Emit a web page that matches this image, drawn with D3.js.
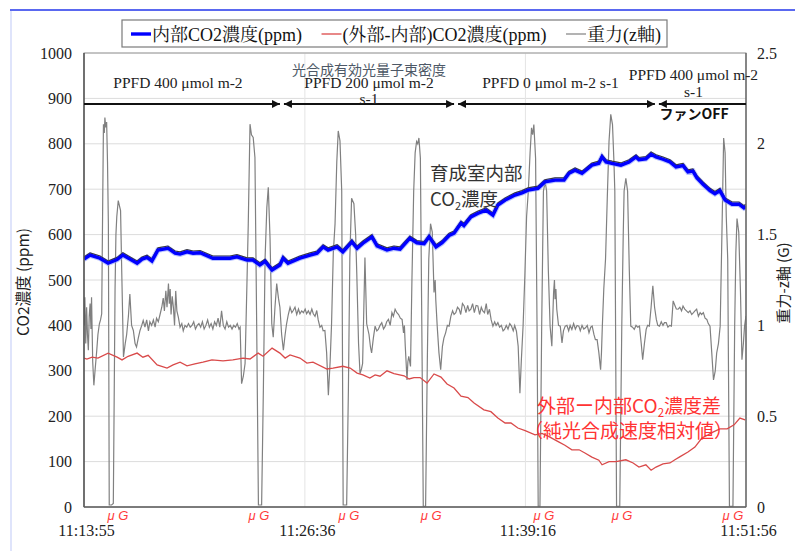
<!DOCTYPE html>
<html><head><meta charset="utf-8">
<script src="https://cdn.jsdelivr.net/npm/d3@7"></script>
<style>
html,body{margin:0;padding:0;background:#fff;}
svg{display:block;}
</style></head>
<body>
<script>
// ---------------- DATA ----------------
const timeLabels = ["11:13:55","11:26:36","11:39:16","11:51:56"];
const co2Ticks = [0,100,200,300,400,500,600,700,800,900,1000];
const gTicks = [0,0.5,1,1.5,2,2.5];
const gTickLabels = ["0","0.5","1","1.5","2","2.5"];

// elapsed seconds from 11:13:55, ppm
const innerCO2 = [[0,546],[21,555],[55,548],[83,537],[114,545],[134,555],[183,537],[200,546],[217,550],[234,542],[255,566],[289,570],[314,559],[331,557],[355,562],[376,559],[400,560],[444,548],[503,548],[527,551],[562,544],[582,544],[606,533],[624,541],[648,522],[675,533],[686,548],[703,537],[744,548],[779,555],[803,559],[824,573],[841,566],[872,573],[892,562],[923,584],[941,570],[961,581],[992,595],[1010,575],[1044,566],[1068,570],[1089,568],[1123,592],[1147,582],[1172,580],[1189,595],[1213,573],[1234,582],[1258,598],[1275,603],[1299,625],[1309,620],[1333,639],[1358,647],[1385,654],[1409,643],[1426,665],[1451,676],[1485,687],[1509,692],[1530,698],[1564,702],[1588,716],[1623,720],[1654,720],[1671,735],[1692,742],[1716,735],[1750,753],[1774,757],[1785,771],[1799,760],[1819,757],[1850,753],[1878,760],[1902,771],[1912,765],[1936,767],[1954,777],[1971,771],[1995,766],[2019,760],[2040,749],[2064,752],[2081,738],[2098,740],[2112,725],[2133,711],[2157,697],[2174,690],[2191,697],[2209,676],[2233,667],[2257,667],[2274,659],[2281,662]];

const diffCO2 = [[0,328],[10,326],[28,330],[48,328],[83,339],[114,330],[131,324],[152,332],[183,339],[203,330],[221,334],[252,313],[286,306],[307,313],[331,319],[355,311],[382,315],[410,319],[441,324],[479,322],[513,324],[548,328],[572,326],[600,339],[617,332],[648,350],[675,339],[693,328],[710,335],[744,328],[768,317],[789,319],[837,304],[858,306],[892,310],[917,306],[941,295],[961,291],[985,284],[1003,291],[1020,288],[1044,300],[1068,294],[1103,289],[1120,282],[1137,285],[1158,285],[1182,273],[1206,293],[1230,286],[1251,271],[1275,262],[1299,244],[1323,241],[1344,229],[1378,214],[1402,210],[1426,196],[1451,185],[1471,185],[1495,174],[1520,168],[1554,159],[1578,162],[1599,156],[1637,143],[1657,136],[1681,126],[1706,126],[1726,119],[1750,110],[1774,103],[1785,93],[1809,100],[1833,100],[1867,104],[1892,97],[1912,88],[1936,93],[1954,81],[1971,88],[1995,95],[2019,97],[2036,104],[2054,111],[2081,121],[2105,132],[2129,152],[2150,159],[2167,165],[2191,172],[2216,172],[2240,181],[2260,196],[2278,192]];

// elapsed seconds, G
const gravity = [[0,1.0],[3,1.155],[6,0.9],[9,1.1],[12,0.95],[15,0.863],[18,1.05],[21,1.12],[24,0.98],[26,1.155],[30,0.8],[34,0.67],[38,0.75],[44,0.863],[48,0.95],[53,1.009],[57,1.03],[61,1.064],[64,1.6],[67,2.108],[70,2.06],[72,2.145],[75,2.09],[78,2.12],[81,1.9],[84,1.559],[87,0.011],[95,0.011],[101,0.02],[104,0.6],[107,1.2],[110,1.5],[113,1.6],[118,1.687],[122,1.66],[126,1.632],[130,1.3],[136,0.826],[142,0.9],[147,0.95],[153,1.05],[158,1.173],[164,1.0],[170,0.972],[176,0.9],[181,0.881],[187,0.93],[193,0.972],[199,1.0],[204,1.027],[210,0.99],[216,1.03],[222,0.97],[227,1.02],[233,1.0],[239,1.03],[245,0.99],[250,1.04],[256,1.02],[262,1.06],[268,1.10],[273,1.15],[277,1.08],[282,1.19],[286,1.1],[291,1.23],[294,1.12],[297,1.2],[300,1.06],[304,1.16],[308,1.10],[312,1.0],[316,1.19],[320,1.08],[325,1.045],[331,0.99],[337,1.01],[342,0.97],[348,1.0],[354,0.99],[360,1.01],[366,0.99],[372,1.0],[378,1.02],[384,0.98],[390,1.0],[396,1.01],[402,0.99],[408,1.02],[414,0.98],[420,1.0],[426,1.03],[432,0.99],[438,1.01],[444,0.98],[450,1.02],[456,1.0],[462,1.04],[468,0.99],[474,1.08],[480,1.0],[486,0.98],[492,1.02],[498,0.99],[504,1.0],[510,0.98],[516,1.0],[522,0.99],[528,1.01],[534,0.98],[538,0.99],[543,0.679],[549,0.72],[555,0.79],[561,1.2],[566,1.559],[572,2.108],[577,2.05],[583,2.035],[589,1.925],[595,1.0],[601,0.011],[612,0.011],[618,0.643],[624,1.374],[630,1.65],[635,1.76],[641,1.48],[647,1.009],[652,0.935],[658,1.1],[664,1.23],[670,1.15],[675,1.10],[681,0.95],[687,0.863],[693,0.95],[698,1.009],[704,1.06],[710,1.10],[716,1.07],[721,1.082],[727,1.1],[733,1.06],[739,1.09],[744,1.064],[750,1.08],[756,1.07],[762,1.09],[767,1.064],[773,1.08],[779,1.06],[785,1.09],[790,1.064],[796,1.05],[802,1.082],[807,1.03],[813,0.99],[819,1.0],[824,0.97],[830,0.972],[836,0.85],[842,0.615],[848,0.8],[853,1.009],[859,1.4],[865,1.559],[871,1.9],[876,2.071],[882,2.016],[888,1.74],[893,0.011],[905,0.011],[911,0.643],[916,1.374],[922,1.70],[930,1.67],[936,1.5],[940,1.28],[946,0.9],[951,0.735],[956,0.76],[960,0.79],[968,1.374],[974,1.009],[982,0.95],[987,0.881],[991,0.848],[997,0.93],[1003,0.996],[1009,0.97],[1014,0.978],[1020,1.0],[1026,1.015],[1032,0.98],[1038,0.996],[1043,1.02],[1049,1.033],[1055,1.0],[1061,1.07],[1066,1.05],[1072,1.089],[1078,1.07],[1084,1.06],[1090,1.04],[1096,1.033],[1101,0.959],[1104,1.0],[1107,0.885],[1113,0.70],[1116,0.8],[1119,0.83],[1125,0.774],[1130,1.255],[1136,1.74],[1141,1.95],[1146,2.013],[1150,2.0],[1154,2.032],[1159,1.921],[1165,0.811],[1169,0.003],[1177,0.003],[1183,0.811],[1188,1.366],[1194,1.56],[1200,1.514],[1206,1.181],[1210,1.25],[1212,1.144],[1217,0.996],[1223,0.85],[1229,0.756],[1235,0.885],[1240,0.93],[1246,0.959],[1252,1.0],[1258,0.996],[1264,1.05],[1270,1.08],[1275,1.06],[1281,1.07],[1287,1.10],[1293,1.089],[1298,1.06],[1304,1.12],[1310,1.107],[1316,1.07],[1322,1.11],[1327,1.08],[1333,1.089],[1339,1.12],[1345,1.07],[1351,1.11],[1357,1.107],[1363,1.06],[1369,1.10],[1374,1.08],[1380,1.07],[1386,1.12],[1391,1.06],[1397,1.089],[1403,1.03],[1409,0.996],[1415,1.02],[1420,1.0],[1426,1.015],[1432,0.99],[1438,1.0],[1444,0.97],[1449,0.978],[1455,1.0],[1461,0.98],[1467,1.01],[1473,0.996],[1479,0.97],[1484,1.0],[1490,0.968],[1496,0.885],[1502,0.626],[1507,0.811],[1513,1.0],[1519,1.274],[1525,1.6],[1531,1.74],[1537,1.95],[1542,2.088],[1546,2.05],[1550,2.106],[1556,1.921],[1561,0.996],[1565,0.003],[1571,0.003],[1577,0.996],[1583,1.74],[1589,1.791],[1594,1.74],[1600,1.3],[1606,0.996],[1612,0.885],[1618,1.181],[1621,1.25],[1623,1.144],[1626,1.2],[1629,1.089],[1635,1.0],[1641,0.996],[1647,0.904],[1652,0.97],[1658,0.996],[1664,1.0],[1670,0.97],[1675,1.0],[1681,0.978],[1687,1.01],[1693,0.98],[1699,1.0],[1705,0.996],[1710,0.97],[1716,1.0],[1722,0.98],[1728,0.987],[1734,1.0],[1740,0.96],[1746,0.99],[1751,0.996],[1757,0.95],[1762,0.922],[1768,0.922],[1774,0.85],[1780,0.756],[1783,0.85],[1786,0.996],[1791,1.2],[1797,1.366],[1803,1.7],[1809,2.013],[1815,2.162],[1821,2.106],[1826,1.9],[1829,1.74],[1835,0.003],[1846,0.003],[1853,0.996],[1858,1.5],[1861,1.74],[1867,1.81],[1873,1.74],[1879,1.3],[1884,0.996],[1890,0.99],[1896,0.978],[1902,1.0],[1908,0.99],[1914,0.996],[1920,0.9],[1925,0.811],[1931,0.9],[1937,0.978],[1942,1.0],[1948,0.996],[1954,1.1],[1960,1.218],[1966,1.1],[1972,1.033],[1977,1.0],[1983,0.996],[1989,1.02],[1995,1.0],[2000,1.015],[2006,1.015],[2012,0.99],[2018,1.0],[2024,0.996],[2030,1.135],[2036,1.11],[2041,1.09],[2047,1.089],[2053,1.1],[2059,1.08],[2064,1.107],[2070,1.09],[2076,1.08],[2082,1.07],[2088,1.08],[2094,1.06],[2100,1.07],[2105,1.08],[2111,1.089],[2117,1.05],[2123,1.07],[2128,1.06],[2134,1.07],[2140,1.04],[2146,1.033],[2151,1.01],[2157,0.996],[2163,0.85],[2169,0.70],[2175,0.75],[2180,0.848],[2186,0.9],[2192,0.996],[2198,1.5],[2204,2.032],[2209,1.95],[2213,1.6],[2218,1.366],[2224,0.003],[2236,0.003],[2242,0.996],[2246,1.4],[2250,1.588],[2256,1.514],[2262,1.181],[2267,0.811],[2272,0.9],[2276,0.996],[2281,1.052]];

// light phases (elapsed seconds boundaries)
const phaseBounds = [0, 682, 1282, 1974, 2281];
const phaseLabels = [["PPFD 400 μmol m-2"],["PPFD 200 μmol m-2","s-1"],["PPFD 0 μmol m-2 s-1"],["PPFD 400 μmol m-2","s-1"]];
// microgravity markers (elapsed seconds)
const muGTimes = [117, 603, 913, 1196, 1585, 1854, 2236];

const legendLabels = ["内部CO2濃度(ppm)", "(外部-内部)CO2濃度(ppm)", "重力(z軸)"];

// ---------------- CHART ----------------
const W = 795, H = 551;
const L = 84, R = 746, T = 53, B = 507;
const svg = d3.select("body").append("svg").attr("width", W).attr("height", H);

const toSec = s => { const [h,m,ss] = s.split(":").map(Number); return h*3600+m*60+ss; };
const t0 = toSec(timeLabels[0]);
const tickSecs = timeLabels.map(s => toSec(s) - t0);

const x = d3.scaleLinear().domain([0, tickSecs[tickSecs.length-1]]).range([L, R]);
const yL = d3.scaleLinear().domain([0, 1000]).range([B, T]);
const yR = d3.scaleLinear().domain([0, 2.5]).range([B, T]);

// slide frame
svg.append("line").attr("x1", 10).attr("x2", W).attr("y1", 10).attr("y2", 10)
  .attr("stroke", "#5a68f0").attr("stroke-width", 2);
svg.append("line").attr("x1", 11).attr("x2", 11).attr("y1", 11).attr("y2", H)
  .attr("stroke", "#dfe4fb").attr("stroke-width", 2);

// gridlines
svg.append("g").selectAll("line").data(co2Ticks.slice(1)).join("line")
  .attr("x1", L).attr("x2", R).attr("y1", d => yL(d)).attr("y2", d => yL(d))
  .attr("stroke", "#dcdcdc").attr("stroke-width", 1);
svg.append("g").selectAll("line").data(tickSecs.slice(1, -1)).join("line")
  .attr("x1", d => x(d)).attr("x2", d => x(d)).attr("y1", T).attr("y2", B)
  .attr("stroke", "#e4e4e4").attr("stroke-width", 1);

// clip
svg.append("clipPath").attr("id", "clip").append("rect")
  .attr("x", L).attr("y", T).attr("width", R - L).attr("height", B - T);
const plot = svg.append("g").attr("clip-path", "url(#clip)");

const lineG = d3.line().x(d => x(d[0])).y(d => yR(d[1]));
const lineC = d3.line().x(d => x(d[0])).y(d => yL(d[1]));

plot.append("path").datum(gravity).attr("d", lineG)
  .attr("fill", "none").attr("stroke", "#808080").attr("stroke-width", 1.2);
plot.append("path").datum(diffCO2).attr("d", lineC)
  .attr("fill", "none").attr("stroke", "#d94a4a").attr("stroke-width", 1.3);
plot.append("path").datum(innerCO2).attr("d", lineC)
  .attr("fill", "none").attr("stroke", "#8c9cff").attr("stroke-width", 5.5).attr("opacity", 0.6);
plot.append("path").datum(innerCO2).attr("d", lineC)
  .attr("fill", "none").attr("stroke", "#3a3a3a").attr("stroke-width", 1.2)
  .attr("transform", "translate(0,-2.2)");
plot.append("path").datum(innerCO2).attr("d", lineC)
  .attr("fill", "none").attr("stroke", "#0000ff").attr("stroke-width", 3.4);

// plot frame
svg.append("rect").attr("x", L).attr("y", T).attr("width", R - L).attr("height", B - T)
  .attr("fill", "none").attr("stroke", "#9a9a9a").attr("stroke-width", 1);
svg.append("line").attr("x1", L).attr("x2", L).attr("y1", T).attr("y2", B).attr("stroke", "#404040").attr("stroke-width", 1.3);
svg.append("line").attr("x1", L).attr("x2", R).attr("y1", B).attr("y2", B).attr("stroke", "#606060").attr("stroke-width", 1.3);
svg.append("line").attr("x1", R).attr("x2", R).attr("y1", T).attr("y2", B).attr("stroke", "#606060").attr("stroke-width", 1.3);

// axes
const serif = "'Liberation Serif','Times New Roman','Noto Serif CJK JP',serif";
const sans = "'Noto Sans CJK JP','Noto Sans',sans-serif";

const axL = svg.append("g").attr("transform", `translate(${L},0)`)
  .call(d3.axisLeft(yL).tickValues(co2Ticks).tickSize(0).tickPadding(12).tickFormat(d3.format("d")));
const axR = svg.append("g").attr("transform", `translate(${R},0)`)
  .call(d3.axisRight(yR).tickValues(gTicks).tickSize(0).tickPadding(11).tickFormat((d, i) => gTickLabels[i]));
const axB = svg.append("g").attr("transform", `translate(0,${B})`)
  .call(d3.axisBottom(x).tickValues(tickSecs).tickSize(0).tickPadding(18).tickFormat((d, i) => timeLabels[i]));
[axL, axR, axB].forEach(a => {
  a.select(".domain").remove();
  a.selectAll("text").attr("font-family", serif).attr("font-size", 16).attr("fill", "#222");
});
axB.selectAll("text").attr("dx", 2);

// axis titles
svg.append("text").attr("transform", `translate(29,${(T + B) / 2 + 2}) rotate(-90)`)
  .attr("text-anchor", "middle").attr("font-family", sans).attr("font-size", 15.5).attr("fill", "#222")
  .text("CO2濃度 (ppm)");
svg.append("text").attr("transform", `translate(789,${(T + B) / 2 + 3}) rotate(-90)`)
  .attr("text-anchor", "middle").attr("font-family", sans).attr("font-size", 15).attr("fill", "#222")
  .text("重力-z軸 (G)");

// phase arrows
const defs = svg.append("defs");
defs.append("marker").attr("id", "ahEnd").attr("viewBox", "0 0 10 10").attr("refX", 10).attr("refY", 5)
  .attr("markerWidth", 4).attr("markerHeight", 4).attr("orient", "auto").attr("markerUnits", "strokeWidth")
  .append("path").attr("d", "M0,0 L10,5 L0,10 z").attr("fill", "#111");
defs.append("marker").attr("id", "ahStart").attr("viewBox", "0 0 10 10").attr("refX", 0).attr("refY", 5)
  .attr("markerWidth", 4).attr("markerHeight", 4).attr("orient", "auto").attr("markerUnits", "strokeWidth")
  .append("path").attr("d", "M10,0 L0,5 L10,10 z").attr("fill", "#111");

const arrowY = 104;
const nPh = phaseLabels.length;
phaseLabels.forEach((lab, i) => {
  const x1 = x(phaseBounds[i]) + (i > 0 ? 2 : 0);
  const x2 = x(phaseBounds[i + 1]) - (i < nPh - 1 ? 2 : 0);
  const ln = svg.append("line").attr("x1", x1).attr("x2", x2).attr("y1", arrowY).attr("y2", arrowY)
    .attr("stroke", "#111").attr("stroke-width", 2);
  if (i < nPh - 1) ln.attr("marker-end", "url(#ahEnd)");
  if (i > 0) ln.attr("marker-start", "url(#ahStart)");
  const cx = (x(phaseBounds[i]) + x(phaseBounds[i + 1])) / 2 + [-5, 0, -6, -8][i];
  const ys = lab.length === 1 ? [88] : (i === nPh - 1 ? [80, 97] : [88, 104]);
  lab.forEach((t, j) => {
    svg.append("text").attr("x", cx).attr("y", ys[j]).attr("text-anchor", "middle")
      .attr("font-family", serif).attr("font-size", 15.5).attr("fill", "#222").text(t);
  });
});
svg.append("text").attr("x", (x(phaseBounds[1]) + x(phaseBounds[2])) / 2).attr("y", 75)
  .attr("text-anchor", "middle").attr("font-family", sans).attr("font-size", 14).attr("fill", "#4d5866")
  .text("光合成有効光量子束密度");
svg.append("text").attr("x", 694).attr("y", 119).attr("text-anchor", "middle")
  .attr("font-family", sans).attr("font-size", 14).attr("font-weight", "bold").attr("fill", "#111")
  .text("ファンOFF");

// microgravity labels
svg.append("g").selectAll("text").data(muGTimes).join("text")
  .attr("x", d => x(d)).attr("y", 520).attr("text-anchor", "middle")
  .attr("font-family", "'Liberation Sans',Arial,sans-serif").attr("font-style", "italic")
  .attr("font-size", 13).attr("fill", "#ff3b3b").text("μ G");

// annotations
const ann1 = svg.append("g").attr("font-family", sans).attr("font-size", 18.5).attr("fill", "#333");
ann1.append("text").attr("x", 430).attr("y", 180).text("育成室内部");
const a2 = ann1.append("text").attr("x", 430).attr("y", 206);
a2.append("tspan").text("CO");
a2.append("tspan").attr("font-size", 11).attr("dy", 4).text("2");
a2.append("tspan").attr("dy", -4).text("濃度");

const ann2 = svg.append("g").attr("font-family", sans).attr("font-size", 19).attr("fill", "#ff3333");
const b1 = ann2.append("text").attr("x", 537).attr("y", 413);
b1.append("tspan").text("外部ー内部CO");
b1.append("tspan").attr("font-size", 11.5).attr("dy", 4).text("2");
b1.append("tspan").attr("dy", -4).text("濃度差");
ann2.append("text").attr("x", 524).attr("y", 438).text("（純光合成速度相対値）");

// legend (items laid out from measured text widths)
const lg = svg.append("g");
lg.append("rect").attr("x", 122).attr("y", 20).attr("width", 545).attr("height", 27)
  .attr("fill", "#fff").attr("stroke", "#7a7a7a").attr("stroke-width", 1.2);
const lgStyle = [
  {color: "#0000ff", w: 3.4},
  {color: "#e06060", w: 1.5},
  {color: "#9a9a9a", w: 1.5}
];
const dashW = 20, lgStart = 131, lgEnd = 661;
const texts = legendLabels.map(lab => lg.append("text").attr("y", 40.5).attr("font-family", serif)
  .attr("font-size", 18).attr("fill", "#111").text(lab));
const widths = texts.map(t => t.node().getComputedTextLength());
const used = widths.reduce((a, b) => a + b, 0) + legendLabels.length * (dashW + 1);
const gap = (lgEnd - lgStart - used) / (legendLabels.length - 1);
let cur = lgStart;
legendLabels.forEach((lab, i) => {
  lg.append("line").attr("x1", cur).attr("x2", cur + dashW).attr("y1", 34).attr("y2", 34)
    .attr("stroke", lgStyle[i].color).attr("stroke-width", lgStyle[i].w);
  texts[i].attr("x", cur + dashW + 1);
  cur += dashW + 1 + widths[i] + gap;
});
</script>
</body></html>
